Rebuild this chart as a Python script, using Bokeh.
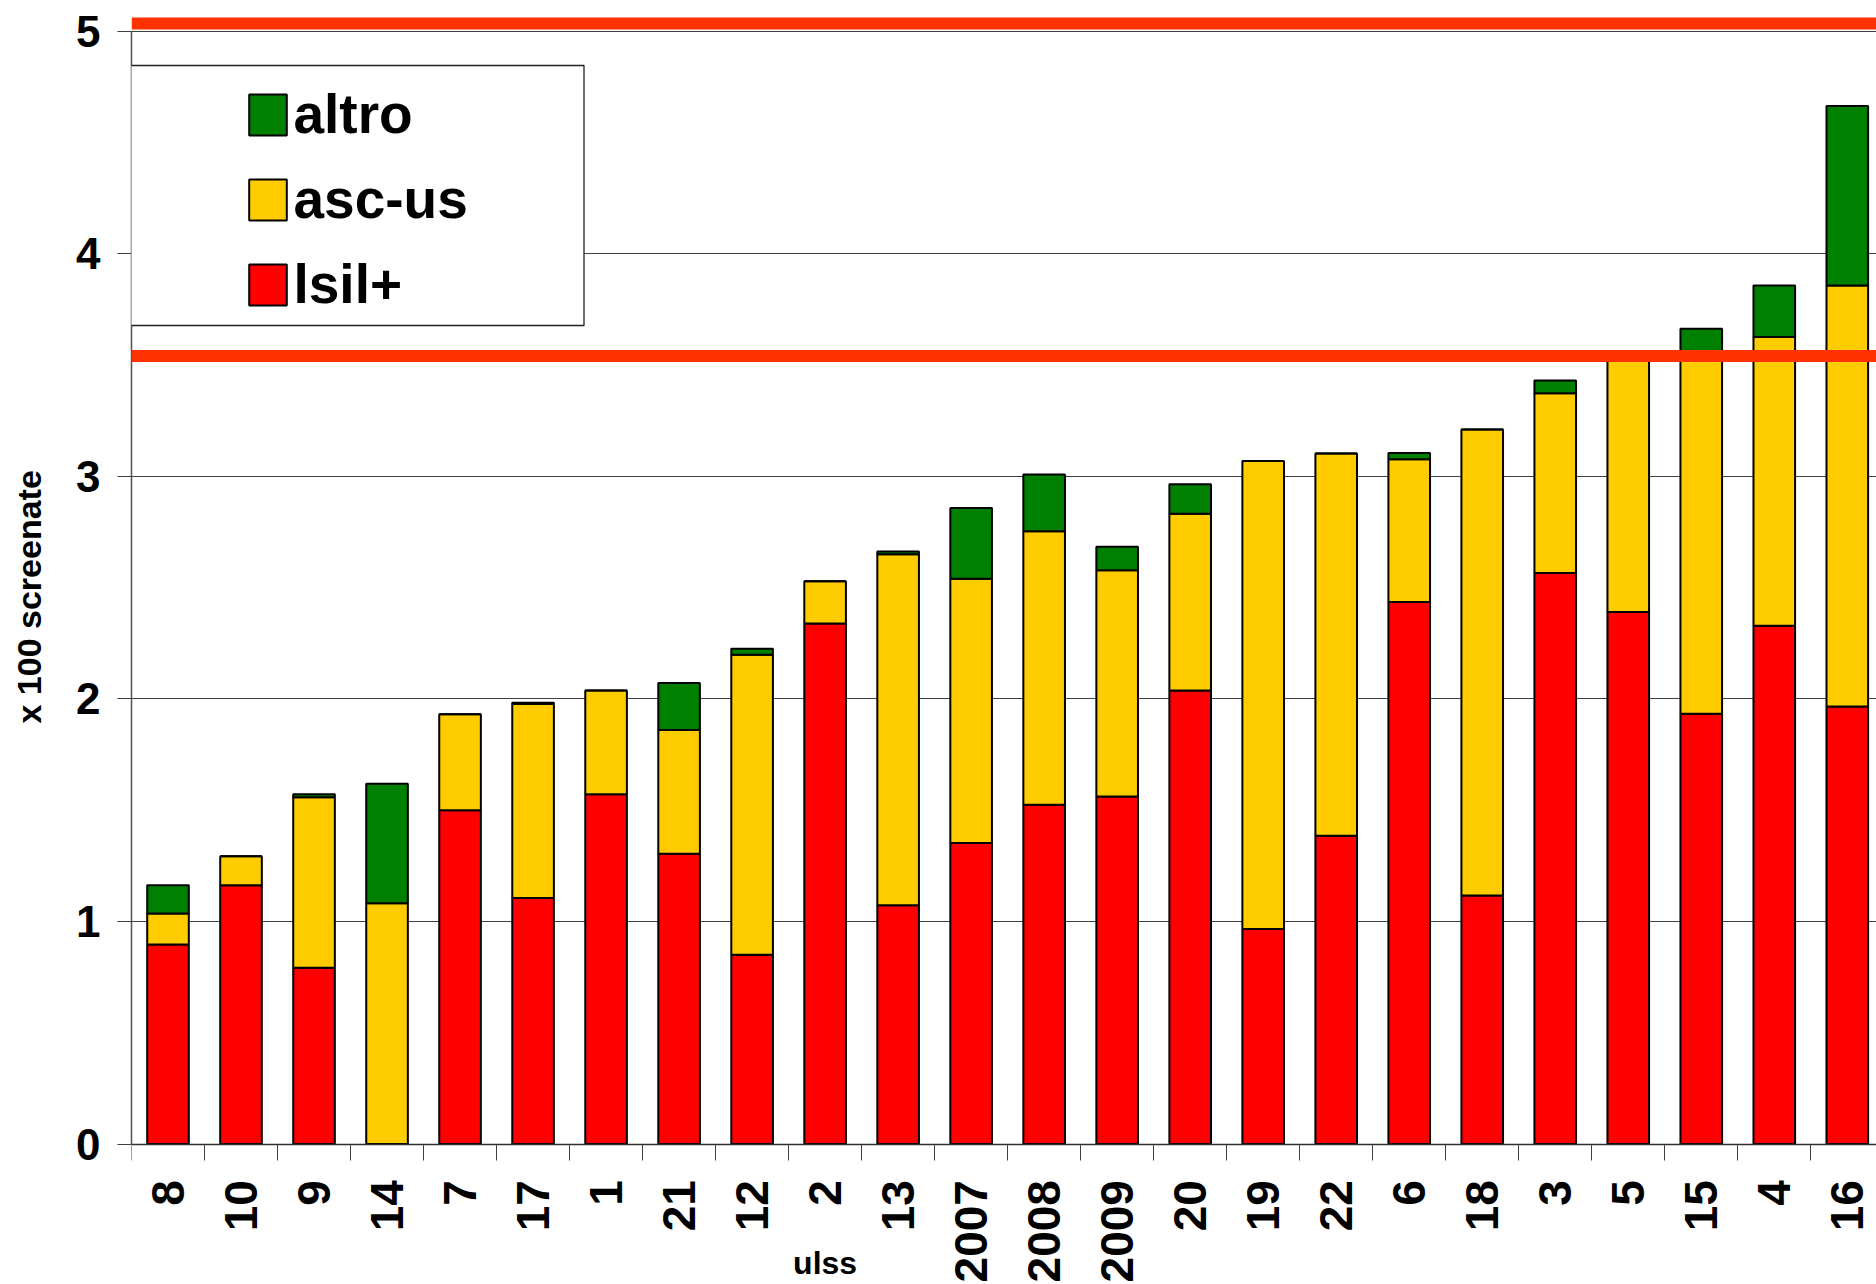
import math
from bokeh.plotting import figure
from bokeh.models import (Range1d, FixedTicker, Span, Legend, LegendItem,
                          BoxAnnotation, Label, ColumnDataSource, Title)
from bokeh.embed import file_html
from bokeh.resources import INLINE

# ---- data ----
categories = ["8", "10", "9", "14", "7", "17", "1", "21", "12", "2", "13",
              "2007", "2008", "2009", "20", "19", "22", "6", "18", "3", "5",
              "15", "4", "16"]
lsil = [0.896, 1.163, 0.792, 0.0, 1.500, 1.105, 1.571, 1.304, 0.850, 2.339,
        1.073, 1.353, 1.524, 1.561, 2.037, 0.966, 1.385, 2.435, 1.117, 2.565,
        2.390, 1.933, 2.329, 1.966]
ascus = [0.140, 0.130, 0.766, 1.082, 0.431, 0.872, 0.466, 0.556, 1.348, 0.189,
         1.577, 1.187, 1.229, 1.017, 0.795, 2.103, 1.717, 0.642, 2.093, 0.808,
         1.150, 1.597, 1.297, 1.891]
altro = [0.127, 0.0, 0.013, 0.537, 0.0, 0.005, 0.0, 0.211, 0.027, 0.0, 0.012,
         0.317, 0.255, 0.105, 0.132, 0.0, 0.0, 0.027, 0.0, 0.057, 0.0, 0.133,
         0.231, 0.806]
y_ticks = [0, 1, 2, 3, 4, 5]
reference_levels = [3.54, 5.034]
x_title = "ulss"
x_title_at = "2"
y_title = "x 100 screenate"

FONT = "Liberation Sans"
GRID = "#404040"

x = list(range(len(categories)))
source = ColumnDataSource(dict(x=x, lsil=lsil, ascus=ascus, altro=altro))

p = figure(width=1876, height=1284, output_backend="svg", toolbar_location=None,
           x_range=Range1d(-0.5, len(categories) - 0.6),
           y_range=Range1d(-0.631, 5.07),
           min_border_left=131, min_border_right=0, min_border_top=15,
           min_border_bottom=0)
p.outline_line_color = None
p.background_fill_color = "white"
p.border_fill_color = "white"

r_lsil, r_ascus, r_altro = p.vbar_stack(
    ["lsil", "ascus", "altro"], x="x", width=0.57, source=source,
    fill_color=["#ff0000", "#ffcc00", "#008000"],
    line_color="black", line_width=2)

# grid
p.xgrid.visible = False
p.ygrid.ticker = FixedTicker(ticks=y_ticks)
p.ygrid.grid_line_color = GRID
p.ygrid.grid_line_width = 1

# y axis
ya = p.yaxis[0]
ya.ticker = FixedTicker(ticks=y_ticks)
ya.bounds = (0, 5)
ya.axis_line_color = "#505050"
ya.axis_line_width = 1.5
ya.major_tick_line_color = GRID
ya.major_tick_out = 14
ya.major_tick_in = 0
ya.minor_tick_line_color = None
ya.major_label_text_font = FONT
ya.major_label_text_font_style = "bold"
ya.major_label_text_font_size = "44px"
ya.major_label_text_color = "black"
ya.major_label_standoff = 17
# blank axis label only adds a gap between tick labels and the title
ya.axis_label = " "
ya.axis_label_text_font_size = "10px"
ya.axis_label_standoff = 6

# y axis title, placed along the left side
p.add_layout(Title(text=y_title, align="left", offset=561, vertical_align="middle",
                   standoff=10, text_font=FONT, text_font_style="bold",
                   text_font_size="34px", text_color="black"), "left")

# x axis drawn at y = 0: labels at category centres, tick marks between them
xa = p.xaxis[0]
xa.fixed_location = 0
xa.ticker = FixedTicker(ticks=x, minor_ticks=[i - 0.5 for i in range(len(categories) + 1)])
xa.major_label_overrides = {i: c for i, c in enumerate(categories)}
xa.major_label_orientation = math.pi / 2
xa.axis_line_color = "#303030"
xa.axis_line_width = 1.5
xa.major_tick_line_color = None
xa.major_tick_out = 16
xa.major_tick_in = 0
xa.minor_tick_line_color = GRID
xa.minor_tick_out = 16
xa.minor_tick_in = 0
xa.major_label_text_font = FONT
xa.major_label_text_font_style = "bold"
xa.major_label_text_font_size = "46px"
xa.major_label_text_color = "black"
xa.major_label_standoff = 20

# orange reference lines
for lvl in reference_levels:
    p.add_layout(Span(location=lvl, dimension="width", line_color="#ff3300",
                      line_width=12))

# x axis title
p.add_layout(Label(x=categories.index(x_title_at), y=22, y_units="screen",
                   text=x_title, text_align="center", text_baseline="alphabetic",
                   text_font=FONT, text_font_style="bold", text_font_size="32px",
                   text_color="black"))

# legend frame + legend
p.add_layout(BoxAnnotation(left=-6.4, right=452.5, bottom=959, top=1219,
                           left_units="screen", right_units="screen",
                           bottom_units="screen", top_units="screen",
                           fill_color="white", fill_alpha=1.0,
                           line_color="#202020", line_width=1.3, line_alpha=1.0))
legend = Legend(items=[LegendItem(label="altro", renderers=[r_altro]),
                       LegendItem(label="asc-us", renderers=[r_ascus]),
                       LegendItem(label="lsil+", renderers=[r_lsil])],
                location=(112.5, 968), padding=0, spacing=21,
                glyph_width=47, glyph_height=51, label_standoff=3,
                label_text_font=FONT, label_text_font_style="bold",
                label_text_font_size="55px", label_text_color="black",
                background_fill_alpha=0.0, border_line_color=None)
p.add_layout(legend)

open("out.html", "w").write(file_html(p, INLINE))
